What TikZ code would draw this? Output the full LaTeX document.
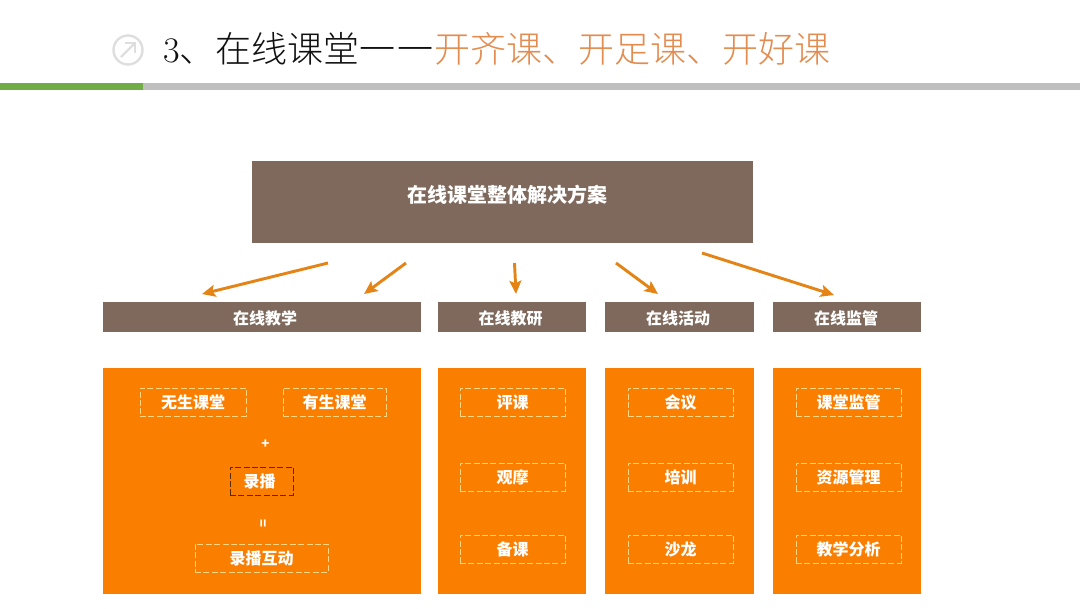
\documentclass[tikz,border=0pt]{standalone}
\usepackage{fontspec}
\setmainfont{Noto Sans CJK SC}
\newfontfamily\titlefont[UprightFont=* Light]{Noto Sans CJK SC}
\usetikzlibrary{arrows.meta}
\definecolor{brownbox}{HTML}{7F695D}
\definecolor{orangebox}{HTML}{FA7F00}
\definecolor{orangearrow}{HTML}{E58416}
\definecolor{orangetitle}{HTML}{E38C50}
\definecolor{darktitle}{HTML}{111111}
\definecolor{barleft}{HTML}{70AD47}
\definecolor{barright}{HTML}{BFBFBF}
\definecolor{dashline}{HTML}{FFD680}
\definecolor{dashdark}{HTML}{5A2A00}
\tikzset{
    headbox/.style={fill=brownbox, text=white, font=\bfseries\fontsize{12pt}{14pt}\selectfont, inner sep=0pt, minimum height=22.5pt, text height=13pt, text depth=1.5pt},
    bodybox/.style={fill=orangebox, inner sep=0pt, minimum height=169.5pt},
    itembox/.style={draw=dashline, dash pattern=on 4.5pt off 1.8pt, line width=0.75pt, text=white, font=\bfseries\fontsize{12pt}{14pt}\selectfont, inner sep=0pt, minimum height=21pt},
    signtext/.style={text=white, font=\bfseries\fontsize{10pt}{12pt}\selectfont, inner sep=0pt},
    guide/.style={->, draw=orangearrow, line width=2.2pt},
}
\begin{document}
\begin{tikzpicture}[x=0.75pt, y=-0.75pt, >={Stealth[length=10pt,width=9pt,inset=2pt]}]
    \useasboundingbox (0,0) rectangle (1080,608);

    \fill[barright] (143,83) rectangle (1080,90);
    \fill[barleft] (0,83) rectangle (143,90);

    \draw[draw=black!13, line width=1.8pt] (128,50) circle (14.5);
    \coordinate (iconA) at (121,57);
    \coordinate (iconB) at (135,43);
    \draw[draw=black!13, line width=1.8pt] (iconA) -- (iconB);
    \draw[draw=black!13, line width=1.8pt] (125,43) -- (iconB) -- (135,53);

    \node[anchor=west, inner sep=0pt, text=darktitle, font=\fontsize{27pt}{30pt}\selectfont] (title) at (163,49)
        {{\fontspec{Latin Modern Roman}3}{\titlefont、在线课堂一\hspace{1.5pt}一\hspace{0.5pt}}{\titlefont\color{orangetitle}开齐课、开足课、开好课}};

    \node[fill=brownbox, inner sep=0pt, minimum width=501*0.75pt, minimum height=82*0.75pt] (top) at (502.5,202) {};
    \node[text=white, inner sep=0pt, font=\bfseries\fontsize{15pt}{18pt}\selectfont] (toptext) at (507,195) {在线课堂整体解决方案};

    \node[headbox, minimum width=318*0.75pt] (teach) at (262,317) {\hspace*{4.5pt}在线教学};
    \node[headbox, minimum width=148*0.75pt] (research) at (512,317) {在线教研\hspace*{2pt}};
    \node[headbox, minimum width=149*0.75pt] (activity) at (679.5,317) {在线活动\hspace*{2pt}};
    \node[headbox, minimum width=148*0.75pt] (monitor) at (847,317) {在线监管\hspace*{1.5pt}};

    \node[bodybox, minimum width=318*0.75pt] (teachbody) at (262,481) {};
    \node[bodybox, minimum width=148*0.75pt] (researchbody) at (512,481) {};
    \node[bodybox, minimum width=149*0.75pt] (activitybody) at (679.5,481) {};
    \node[bodybox, minimum width=148*0.75pt] (monitorbody) at (847,481) {};

    \node[itembox, minimum width=106*0.75pt] (nolive) at (193,402) {无生课堂};
    \node[itembox, minimum width=103*0.75pt] (live) at (334.5,402) {有生课堂};
    \node[signtext] (plus) at (265.5,444) {+};
    \node[itembox, draw=dashdark, minimum width=63*0.75pt] (record) at (261.5,481) {录播\hspace*{3pt}};
    \node[signtext, rotate=90] (equal) at (264.5,523) {=};
    \node[itembox, minimum width=133*0.75pt] (recordmix) at (261.5,558) {录播互动};

    \node[itembox, minimum width=105*0.75pt] (review) at (512.5,402) {评课};
    \node[itembox, minimum width=105*0.75pt] (observe) at (512.5,477) {观摩};
    \node[itembox, minimum width=105*0.75pt] (prepare) at (512.5,549) {备课};

    \node[itembox, minimum width=105*0.75pt] (meeting) at (680.5,402) {会议};
    \node[itembox, minimum width=105*0.75pt] (training) at (680.5,477) {培训};
    \node[itembox, minimum width=105*0.75pt] (salon) at (680.5,549) {沙龙};

    \node[itembox, minimum width=105*0.75pt] (classwatch) at (848.5,402) {课堂监管};
    \node[itembox, minimum width=105*0.75pt] (resource) at (848.5,477) {资源管理};
    \node[itembox, minimum width=105*0.75pt] (analysis) at (848.5,549) {教学分析};

    \coordinate (startA) at (328,263);
    \coordinate (endA) at (202,294);
    \coordinate (startB) at (406,263);
    \coordinate (endB) at (364,294);
    \coordinate (startC) at (514.5,263);
    \coordinate (endC) at (516,294);
    \coordinate (startD) at (616,263);
    \coordinate (endD) at (658,294);
    \coordinate (startE) at (702,253);
    \coordinate (endE) at (834,295);

    \draw[guide] (startA) -- (endA);
    \draw[guide] (startB) -- (endB);
    \draw[guide] (startC) -- (endC);
    \draw[guide] (startD) -- (endD);
    \draw[guide] (startE) -- (endE);
\end{tikzpicture}
\end{document}
